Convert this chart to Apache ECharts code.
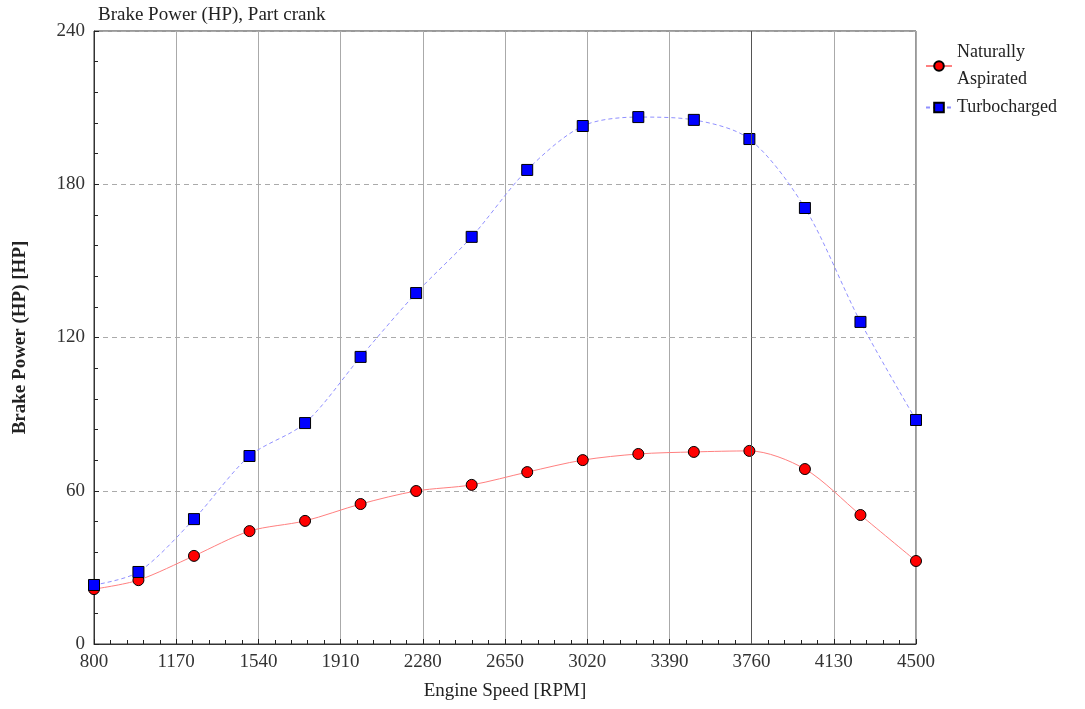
<!DOCTYPE html>
<html><head><meta charset="utf-8">
<script src="https://cdn.jsdelivr.net/npm/echarts@6/dist/echarts.min.js"></script>
<style>html,body{margin:0;padding:0;background:#fff}#c{width:1085px;height:709px}</style>
</head><body><div id="c"></div>
<script>
const rpm = [800, 1000, 1250, 1500, 1750, 2000, 2250, 2500, 2750, 3000, 3250, 3500, 3750, 4000, 4250, 4500];
const naturallyAspirated = [21.5, 25, 34.5, 44.2, 48.2, 54.8, 59.9, 62.3, 67.3, 72, 74.4, 75.2, 75.6, 68.5, 50.5, 32.5];
const turbocharged = [23.1, 28.2, 48.9, 73.6, 86.5, 112.4, 137.4, 159.4, 185.6, 202.8, 206.3, 205.2, 197.7, 170.7, 126.1, 87.7];
const xTicks = [800, 1170, 1540, 1910, 2280, 2650, 3020, 3390, 3760, 4130, 4500];
const yTicks = [0, 60, 120, 180, 240];
const seriesNames = ['Naturally\nAspirated', 'Turbocharged'];

const font = 'Liberation Serif';
const chart = echarts.init(document.getElementById('c'), null, {renderer: 'canvas'});
chart.setOption({
  animation: false,
  backgroundColor: '#fff',
  title: {
    text: 'Brake Power (HP), Part crank',
    left: 93, top: 1,
    textStyle: {fontFamily: font, fontSize: 19, fontWeight: 'normal', color: '#222'}
  },
  legend: {
    orient: 'vertical', left: 920, top: 34, itemGap: 1,
    itemWidth: 26, itemHeight: 12,
    textStyle: {fontFamily: font, fontSize: 18, color: '#222', lineHeight: 27},
    data: seriesNames
  },
  grid: {left: 94, right: 169, top: 31, bottom: 65, show: true, borderColor: '#333', borderWidth: 1, backgroundColor: 'transparent'},
  xAxis: {
    type: 'value', min: xTicks[0], max: xTicks[xTicks.length - 1], interval: 370,
    name: 'Engine Speed [RPM]', nameLocation: 'middle', nameGap: 38,
    nameTextStyle: {fontFamily: font, fontSize: 19, color: '#222'},
    axisLine: {show: true, lineStyle: {color: '#333', width: 1}},
    axisTick: {show: true, inside: true, length: 5, lineStyle: {color: '#222'}},
    minorTick: {show: true, splitNumber: 5, length: 4, lineStyle: {color: '#222'}},
    axisLabel: {fontFamily: font, fontSize: 19, color: '#333', margin: 9, formatter: v => String(v)},
    splitLine: {show: true, lineStyle: {color: '#aaa', width: 1, type: 'solid'}}
  },
  yAxis: {
    type: 'value', min: yTicks[0], max: yTicks[yTicks.length - 1], interval: 60,
    name: 'Brake Power (HP) [HP]', nameLocation: 'middle', nameGap: 64,
    nameTextStyle: {fontFamily: font, fontSize: 19, color: '#222', fontWeight: 'bold'},
    axisLine: {show: true, lineStyle: {color: '#333', width: 1}},
    axisTick: {show: true, inside: true, length: 5, lineStyle: {color: '#222'}},
    minorTick: {show: true, splitNumber: 5, length: 4, lineStyle: {color: '#222'}},
    axisLabel: {fontFamily: font, fontSize: 19, color: '#333', margin: 9, formatter: v => String(v)},
    splitLine: {show: true, lineStyle: {color: '#aaa', width: 1, type: [5, 4]}}
  },
  series: [
    {
      name: seriesNames[0], type: 'line', smooth: 0.3,
      data: rpm.map((x, i) => [x, naturallyAspirated[i]]),
      symbol: 'circle', symbolSize: 11,
      itemStyle: {color: '#ff0000', borderColor: '#000', borderWidth: 1},
      lineStyle: {color: '#ff8080', width: 1},
      z: 3,
      markLine: {
        silent: true, symbol: 'none', label: {show: false},
        lineStyle: {color: '#555', width: 1, type: 'solid'},
        data: [{xAxis: xTicks[8]}]
      }
    },
    {
      name: seriesNames[1], type: 'line', smooth: 0.3,
      data: rpm.map((x, i) => [x, turbocharged[i]]),
      symbol: 'rect', symbolSize: 11,
      itemStyle: {color: '#0000ff', borderColor: '#000', borderWidth: 1},
      lineStyle: {color: '#9090ff', width: 1, type: [4, 3]},
      z: 4
    }
  ]
});
</script></body></html>
